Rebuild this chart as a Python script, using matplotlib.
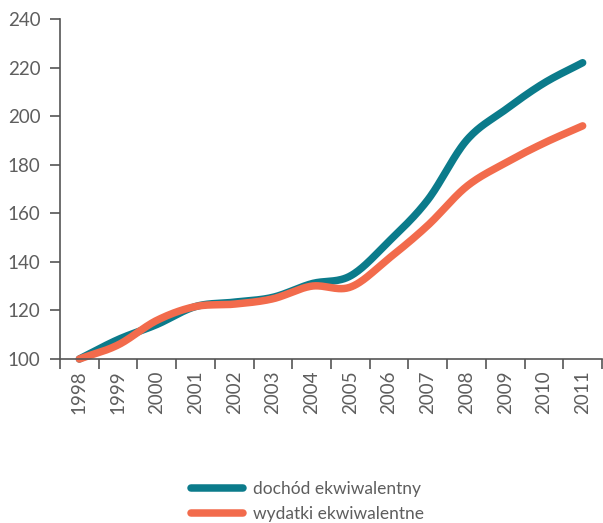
import numpy as np
import matplotlib
matplotlib.use("Agg")
import matplotlib.pyplot as plt
from matplotlib.lines import Line2D

plt.rcParams['font.family'] = ['Lato', 'DejaVu Sans']

# %% data
years = ['1998', '1999', '2000', '2001', '2002', '2003', '2004',
         '2005', '2006', '2007', '2008', '2009', '2010', '2011']
dochod = [100, 108, 114.2, 121.6, 123.4, 125.4, 131.0,
          134.2, 148.5, 165.5, 190.0, 202.6, 213.6, 222.0]
wydatki = [100, 105.8, 115.9, 121.6, 122.6, 124.8, 130.0,
           129.6, 141.5, 155.0, 171.0, 180.7, 188.9, 196.0]
labels = ['dochód ekwiwalentny', 'wydatki ekwiwalentne']

TEAL = '#0b7b8b'
ORANGE = '#f26b4c'
GREY = '#555555'
TXT = '#5e5e5e'


def smooth(y, n=30):
    # catmull-rom spline through the yearly points
    y = np.asarray(y, dtype=float)
    x = np.arange(len(y), dtype=float)
    m = np.gradient(y, x)
    xs, ys = [], []
    for i in range(len(y) - 1):
        t = np.linspace(0, 1, n, endpoint=False)
        h00 = 2*t**3 - 3*t**2 + 1
        h10 = t**3 - 2*t**2 + t
        h01 = -2*t**3 + 3*t**2
        h11 = t**3 - t**2
        xs.append(x[i] + t)
        ys.append(h00*y[i] + h10*m[i] + h01*y[i+1] + h11*m[i+1])
    xs.append([x[-1]])
    ys.append([y[-1]])
    return np.concatenate(xs), np.concatenate(ys)


fig = plt.figure(figsize=(6.03, 5.23), dpi=100)
ax = fig.add_axes([60/603, 1 - 359/523, 542/603, 340/523])

for vals, col in [(dochod, TEAL), (wydatki, ORANGE)]:
    sx, sy = smooth(vals)
    ax.plot(sx, sy, color=col, lw=5.4, solid_capstyle='round', clip_on=False)

ax.set_xlim(-0.5, len(years) - 0.5)
ax.set_ylim(100, 240)
ax.set_yticks(range(100, 241, 20))

ax.set_xticks(np.arange(-0.5, len(years)), minor=False)
ax.set_xticklabels([])
ax.set_xticks(np.arange(len(years)), minor=True)
ax.set_xticklabels(years, minor=True, rotation=90)

ax.tick_params(axis='y', length=7, width=1.2, color=GREY, labelcolor=TXT,
               labelsize=13.5, pad=7)
ax.tick_params(axis='x', which='major', length=7, width=1.2, color=GREY,
               direction='out')
ax.tick_params(axis='x', which='minor', length=0, labelcolor=TXT,
               labelsize=13.5, pad=8)

for s in ['top', 'right']:
    ax.spines[s].set_visible(False)
for s in ['left', 'bottom']:
    ax.spines[s].set_color(GREY)
    ax.spines[s].set_linewidth(1.2)

handles = [Line2D([], [], color=TEAL, lw=5.4, solid_capstyle='round'),
           Line2D([], [], color=ORANGE, lw=5.4, solid_capstyle='round')]
fig.legend(handles, labels, loc='upper center', bbox_to_anchor=(0.51, 0.11),
           frameon=False, fontsize=12.5, handlelength=3.0, labelspacing=0.5,
           handletextpad=0.55, labelcolor=TXT)

fig.savefig('out.png', dpi=100)
